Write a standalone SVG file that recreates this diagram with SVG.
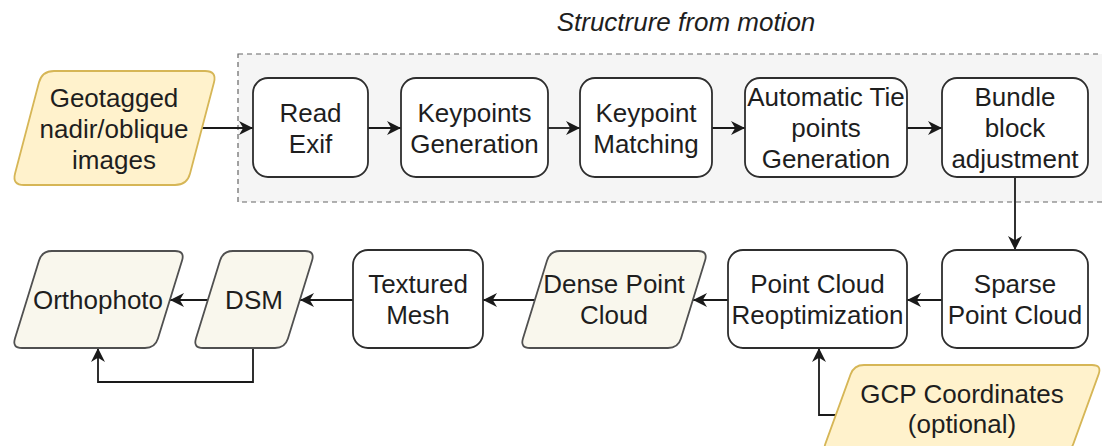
<svg xmlns="http://www.w3.org/2000/svg" width="1102" height="446" viewBox="0 0 1102 446">
<style>
text{font-family:"Liberation Sans",Arial,sans-serif;font-size:26px;fill:#1e1e1e;text-anchor:middle}
.box{fill:#ffffff;stroke:#2e2e2e;stroke-width:1.8}
.yel{fill:#fff2cc;stroke:#d6b656;stroke-width:1.8}
.bei{fill:#f9f7ed;stroke:#505050;stroke-width:1.8}
.edge{fill:none;stroke:#1a1a1a;stroke-width:1.8}
</style>
<defs>
<marker id="arr" viewBox="0 0 10 10" refX="10" refY="5" markerWidth="14" markerHeight="14" markerUnits="userSpaceOnUse" orient="auto">
<path d="M0,0 L10,5 L0,10 L3,5 Z" fill="#1a1a1a"/>
</marker>
</defs>
<rect width="1102" height="446" fill="#ffffff"/>
<g id="sfm-container">
<rect x="238" y="54" width="880" height="148" fill="#f5f5f5" stroke="#666666" stroke-width="1.2" stroke-dasharray="5,4"/>
<text x="686" y="31" style="font-style:italic">Structrure from motion</text>
</g>
<g id="connectors">
<path class="edge" d="M202,128 L253,128" marker-end="url(#arr)"/>
<path class="edge" d="M368,128 L401,128" marker-end="url(#arr)"/>
<path class="edge" d="M548,128 L580,128" marker-end="url(#arr)"/>
<path class="edge" d="M712,128 L745,128" marker-end="url(#arr)"/>
<path class="edge" d="M907,128 L942,128" marker-end="url(#arr)"/>
<path class="edge" d="M1015,177 L1015,250" marker-end="url(#arr)"/>
<path class="edge" d="M942,300 L907,300" marker-end="url(#arr)"/>
<path class="edge" d="M728,300 L693,300" marker-end="url(#arr)"/>
<path class="edge" d="M535,300 L483,300" marker-end="url(#arr)"/>
<path class="edge" d="M353,300 L300,300" marker-end="url(#arr)"/>
<path class="edge" d="M208,300 L170,300" marker-end="url(#arr)"/>
<path class="edge" d="M253,348 L253,382 L98,382 L98,348" marker-end="url(#arr)"/>
<path class="edge" d="M836,415 L819,415 L819,348" marker-end="url(#arr)"/>
</g>
<g id="geotagged">
<path class="yel" d="M54,71 L205,71 Q217,71 213.95,82.6 L190.05,173.4 Q187,185 175,185 L24,185 Q12,185 15.05,173.4 L38.95,82.6 Q42,71 54,71 Z"/>
<text x="114" y="107">Geotagged</text>
<text x="114" y="138">nadir/oblique</text>
<text x="114" y="169">images</text>
</g>
<g id="read-exif">
<rect class="box" x="253" y="78" width="115" height="99" rx="15"/>
<text x="310.5" y="122">Read</text>
<text x="310.5" y="153">Exif</text>
</g>
<g id="keypoints-generation">
<rect class="box" x="401" y="78" width="147" height="99" rx="15"/>
<text x="474.5" y="122">Keypoints</text>
<text x="474.5" y="153">Generation</text>
</g>
<g id="keypoint-matching">
<rect class="box" x="580" y="78" width="132" height="99" rx="15"/>
<text x="646" y="122">Keypoint</text>
<text x="646" y="153">Matching</text>
</g>
<g id="automatic-tie">
<rect class="box" x="745" y="78" width="162" height="99" rx="15"/>
<text x="826" y="106">Automatic Tie</text>
<text x="826" y="137">points</text>
<text x="826" y="168">Generation</text>
</g>
<g id="bundle-block">
<rect class="box" x="942" y="78" width="146" height="99" rx="15"/>
<text x="1015" y="106">Bundle</text>
<text x="1015" y="137">block</text>
<text x="1015" y="168">adjustment</text>
</g>
<g id="sparse-point-cloud">
<rect class="box" x="942" y="250" width="146" height="98" rx="15"/>
<text x="1015" y="293">Sparse</text>
<text x="1015" y="324">Point Cloud</text>
</g>
<g id="reoptimization">
<rect class="box" x="728" y="250" width="179" height="98" rx="15"/>
<text x="817.5" y="293">Point Cloud</text>
<text x="817.5" y="324">Reoptimization</text>
</g>
<g id="dense-point-cloud">
<path class="bei" d="M560,251 L698,251 Q708,251 705.04,260.55 L680.96,338.45 Q678,348 668,348 L530,348 Q520,348 522.96,338.45 L547.04,260.55 Q550,251 560,251 Z"/>
<text x="614" y="293">Dense Point</text>
<text x="614" y="324">Cloud</text>
</g>
<g id="textured-mesh">
<rect class="box" x="353" y="250" width="130" height="98" rx="15"/>
<text x="418" y="293">Textured</text>
<text x="418" y="324">Mesh</text>
</g>
<g id="dsm">
<path class="bei" d="M233,251 L305,251 Q315,251 312.04,260.55 L287.96,338.45 Q285,348 275,348 L203,348 Q193,348 195.96,338.45 L220.04,260.55 Q223,251 233,251 Z"/>
<text x="254" y="309">DSM</text>
</g>
<g id="orthophoto">
<path class="bei" d="M52,251 L175,251 Q185,251 182.04,260.55 L157.96,338.45 Q155,348 145,348 L22,348 Q12,348 14.96,338.45 L39.04,260.55 Q42,251 52,251 Z"/>
<text x="98" y="309">Orthophoto</text>
</g>
<g id="gcp-coordinates">
<path class="yel" d="M864,365 L1092,365 Q1102,365 1098.58,374.4 L1073.42,443.6 Q1070,453 1060,453 L832,453 Q822,453 825.42,443.6 L850.58,374.4 Q854,365 864,365 Z"/>
<text x="962" y="403">GCP Coordinates</text>
<text x="962" y="433">(optional)</text>
</g>
</svg>
